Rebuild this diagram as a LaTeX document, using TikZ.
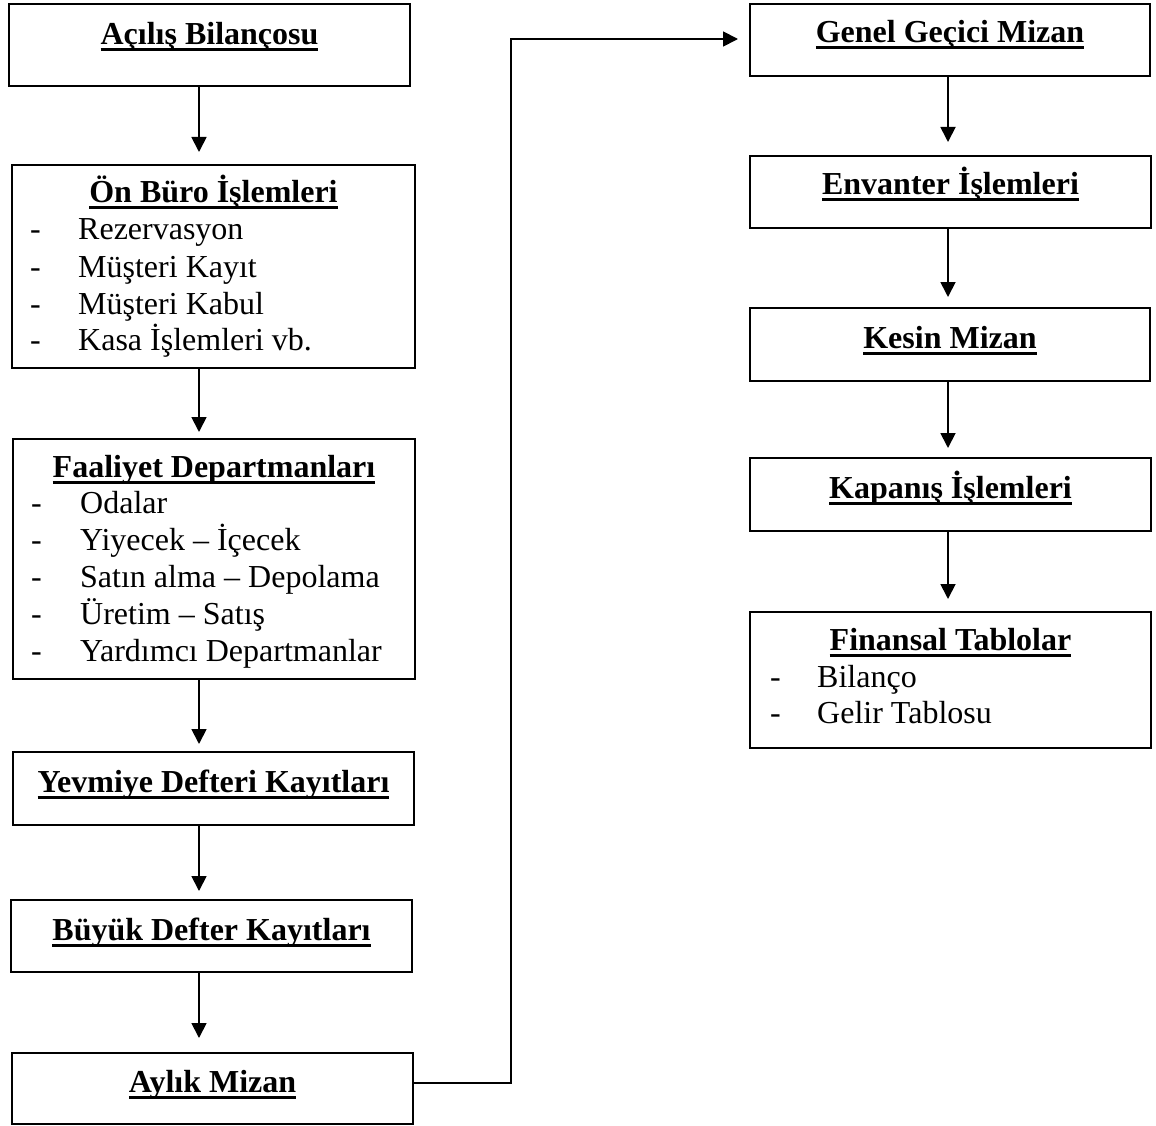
\documentclass[tikz,border=0pt]{standalone}
\usepackage{fontspec}
\setmainfont{Liberation Serif}
\usetikzlibrary{arrows.meta,calc}
\newsavebox\ulbox
\newcommand\ulbar[1]{\sbox\ulbox{#1}\rlap{\rule[-6.5pt]{\wd\ulbox}{3pt}}\usebox\ulbox}
\tikzset{
  box/.style={draw=black, line width=2pt, rectangle, inner sep=0pt},
  ttl/.style={anchor=base, inner sep=0pt, font=\fontsize{32pt}{37pt}\selectfont\bfseries},
  itm/.style={anchor=base west, inner sep=0pt, font=\fontsize{32pt}{37pt}\selectfont},
  arr/.style={line width=1.8pt, -{Triangle[length=15pt,width=15pt]}}
}
\begin{document}
\begin{tikzpicture}[x=1pt,y=-1pt]
\useasboundingbox (0,0) rectangle (1156,1126);
\coordinate (colL) at (199,0);
\coordinate (colR) at (948,0);
\coordinate (bend) at (511,39);
% left column boxes
\node[box, minimum width=401pt, minimum height=82pt]  (A) at (209.5,45) {};
\node[box, minimum width=403pt, minimum height=203pt] (B) at (213.5,266.5) {};
\node[box, minimum width=402pt, minimum height=240pt] (C) at (214,559) {};
\node[box, minimum width=401pt, minimum height=73pt]  (D) at (213.5,788.5) {};
\node[box, minimum width=401pt, minimum height=72pt]  (E) at (211.5,936) {};
\node[box, minimum width=401pt, minimum height=71pt]  (F) at (212.5,1088.5) {};
% right column boxes
\node[box, minimum width=400pt, minimum height=72pt]  (G) at (950,40) {};
\node[box, minimum width=401pt, minimum height=72pt]  (H) at (950.5,192) {};
\node[box, minimum width=400pt, minimum height=73pt]  (I) at (950,344.5) {};
\node[box, minimum width=401pt, minimum height=73pt]  (J) at (950.5,494.5) {};
\node[box, minimum width=401pt, minimum height=136pt] (K) at (950.5,680) {};
% titles
\node[ttl] (At) at ([yshift=-42pt]A.north) {\ulbar{Açılış Bilançosu}};
\node[ttl] (Bt) at ([yshift=-39pt]B.north) {\ulbar{Ön Büro İşlemleri}};
\node[ttl] (Ct) at ([yshift=-39pt]C.north) {\ulbar{Faaliyet Departmanları}};
\node[ttl] (Dt) at ([yshift=-41pt]D.north) {\ulbar{Yevmiye Defteri Kayıtları}};
\node[ttl] (Et) at ([yshift=-41pt]E.north) {\ulbar{Büyük Defter Kayıtları}};
\node[ttl] (Ft) at ([yshift=-40pt]F.north) {\ulbar{Aylık Mizan}};
\node[ttl] (Gt) at ([yshift=-40pt]G.north) {\ulbar{Genel Geçici Mizan}};
\node[ttl] (Ht) at ([yshift=-40pt]H.north) {\ulbar{Envanter İşlemleri}};
\node[ttl] (It) at ([yshift=-41pt]I.north) {\ulbar{Kesin Mizan}};
\node[ttl] (Jt) at ([yshift=-41pt]J.north) {\ulbar{Kapanış İşlemleri}};
\node[ttl] (Kt) at ([yshift=-39pt]K.north) {\ulbar{Finansal Tablolar}};
% list items: Ön Büro
\node[itm] (bd1) at (30,239) {-}; \node[itm] (b1) at (78,239) {Rezervasyon};
\node[itm] (bd2) at (30,277) {-}; \node[itm] (b2) at (78,277) {Müşteri Kayıt};
\node[itm] (bd3) at (30,314) {-}; \node[itm] (b3) at (78,314) {Müşteri Kabul};
\node[itm] (bd4) at (30,350) {-}; \node[itm] (b4) at (78,350) {Kasa İşlemleri vb.};
% list items: Faaliyet
\node[itm] (cd1) at (31,513) {-}; \node[itm] (c1) at (80,513) {Odalar};
\node[itm] (cd2) at (31,550) {-}; \node[itm] (c2) at (80,550) {Yiyecek – İçecek};
\node[itm] (cd3) at (31,587) {-}; \node[itm] (c3) at (80,587) {Satın alma – Depolama};
\node[itm] (cd4) at (31,624) {-}; \node[itm] (c4) at (80,624) {Üretim – Satış};
\node[itm] (cd5) at (31,661) {-}; \node[itm] (c5) at (80,661) {Yardımcı Departmanlar};
% list items: Finansal
\node[itm] (kd1) at (770,687) {-}; \node[itm] (k1) at (817,687) {Bilanço};
\node[itm] (kd2) at (770,723) {-}; \node[itm] (k2) at (817,723) {Gelir Tablosu};
% arrows left
\draw[arr, shorten >=12pt] (A.south -| colL) -- (B.north -| colL);
\draw[arr, shorten >=6pt]  (B.south -| colL) -- (C.north -| colL);
\draw[arr, shorten >=7pt]  (C.south -| colL) -- (D.north -| colL);
\draw[arr, shorten >=8pt]  (D.south -| colL) -- (E.north -| colL);
\draw[arr, shorten >=14pt] (E.south -| colL) -- (F.north -| colL);
% arrows right
\draw[arr, shorten >=13pt] (G.south -| colR) -- (H.north -| colR);
\draw[arr, shorten >=10pt] (H.south -| colR) -- (I.north -| colR);
\draw[arr, shorten >=9pt]  (I.south -| colR) -- (J.north -| colR);
\draw[arr, shorten >=12pt] (J.south -| colR) -- (K.north -| colR);
% elbow connector
\draw[arr, shorten >=11pt] ([yshift=5.5pt]F.east) -| (bend) -- (G.west |- bend);
\end{tikzpicture}
\end{document}
